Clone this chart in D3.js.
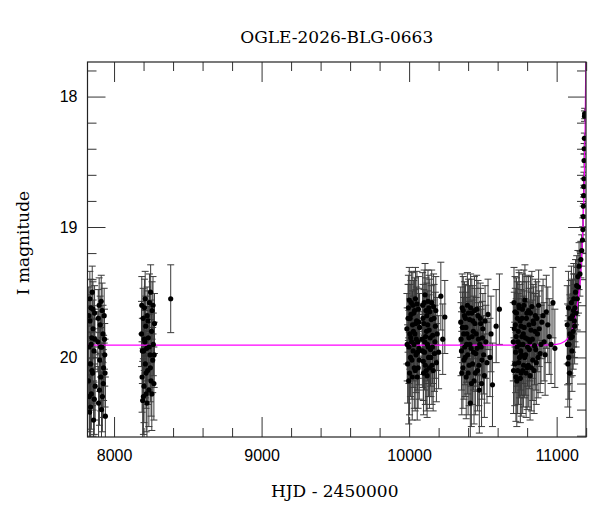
<!DOCTYPE html>
<meta charset="utf-8">
<style>
body { margin: 0; background: #fff; }
svg { font-family: "DejaVu Serif", serif; }
.axis path.domain { display: none; }
.axis line { stroke: #333; }
.axis text { font-size: 16px; fill: #000; }
</style>
<svg width="600" height="512"></svg>
<script src="https://cdn.jsdelivr.net/npm/d3@7"></script>
<script>

var title = "OGLE-2026-BLG-0663",
    xLabel = "HJD - 2450000",
    yLabel = "I magnitude";

var xMajor = [8000, 9000, 10000, 11000],
    yMajor = [18, 19, 20];

// [HJD - 2450000, I mag, error]
var season1 = [
  [7826,20.18,0.25],[7828,19.68,0.22],[7830,19.92,0.22],[7832,20.30,0.27],[7834,20.42,0.28],
  [7836,19.55,0.21],[7837,19.72,0.2],[7840,20.05,0.24],[7841,20.38,0.28],[7843,19.62,0.22],
  [7845,19.90,0.23],[7846,20.28,0.27],[7849,19.85,0.23],[7850,20.10,0.25],[7852,19.50,0.2],
  [7855,20.12,0.25],[7857,19.63,0.21],[7858,19.78,0.22],[7861,20.48,0.3],[7864,19.95,0.24],
  [7866,20.32,0.27],[7868,19.66,0.21],[7870,19.86,0.23],[7872,20.22,0.26],[7890,19.88,0.23],
  [7893,19.70,0.22],[7895,20.35,0.28],[7899,19.60,0.21],[7901,20.25,0.27],[7903,20.02,0.24],
  [7906,19.75,0.22],[7908,19.92,0.23],[7910,20.15,0.26],[7913,19.57,0.2],[7915,20.40,0.29],
  [7917,19.92,0.23],[7919,19.64,0.21],[7921,20.30,0.27],[7925,19.82,0.22],[7927,20.20,0.26],
  [7929,20.08,0.25],[7933,19.68,0.21],[7935,19.86,0.23],[7937,19.98,0.24],[7939,20.12,0.26],
  [7941,20.45,0.3]
];

var season2 = [
  [8186,19.82,0.25],[8188,19.60,0.22],[8190,20.15,0.27],[8192,19.95,0.25],[8194,20.33,0.3],
  [8197,19.70,0.23],[8199,20.30,0.29],[8200,19.95,0.25],[8203,20.22,0.28],[8205,19.86,0.24],
  [8206,19.62,0.22],[8209,19.88,0.24],[8211,19.55,0.21],[8212,20.05,0.26],[8215,19.76,0.23],
  [8217,20.12,0.27],[8218,20.28,0.29],[8221,19.93,0.25],[8223,20.35,0.3],[8224,19.68,0.22],
  [8228,20.10,0.26],[8230,19.72,0.23],[8232,19.85,0.24],[8236,20.25,0.28],[8238,19.92,0.25],
  [8240,19.58,0.22],[8244,19.98,0.25],[8246,20.08,0.26],[8248,19.50,0.21],[8251,20.18,0.27],
  [8254,19.80,0.24],[8256,20.28,0.28],[8258,19.64,0.22],[8262,20.02,0.25],[8264,19.60,0.22],
  [8266,19.90,0.24],[8270,20.20,0.28],[8272,19.98,0.25],[8274,19.74,0.23],[8384,19.55,0.26]
];

var season3 = [
  [9985,19.78,0.27],[9987,19.90,0.28],[9990,20.05,0.3],[9993,19.70,0.26],[9995,19.62,0.25],
  [9997,20.18,0.33],[9999,19.92,0.28],[10001,19.56,0.25],[10003,20.12,0.32],[10005,19.82,0.27],
  [10007,19.70,0.26],[10009,20.00,0.3],[10011,19.85,0.27],[10013,19.67,0.26],[10015,19.58,0.24],
  [10017,19.88,0.28],[10019,20.02,0.3],[10021,20.15,0.33],[10023,19.75,0.26],[10025,19.60,0.25],
  [10027,19.95,0.28],[10029,19.80,0.27],[10031,19.66,0.25],[10033,19.90,0.28],[10035,20.08,0.31],
  [10037,19.64,0.25],[10039,19.82,0.27],[10041,20.10,0.31],[10043,19.55,0.24],[10045,19.74,0.26],
  [10047,19.98,0.29],[10049,19.86,0.28],[10051,19.72,0.26],[10053,19.59,0.25],[10055,20.15,0.33],
  [10057,19.96,0.29],[10059,19.88,0.28],[10061,20.08,0.31],[10063,19.63,0.25],[10065,19.73,0.26],
  [10067,19.93,0.28],[10069,20.02,0.3],[10071,19.77,0.26],[10088,19.86,0.27],[10090,19.95,0.28],
  [10092,19.60,0.25],[10094,19.70,0.26],[10096,20.03,0.3],[10098,20.12,0.32],[10100,19.74,0.26],
  [10102,19.58,0.25],[10104,19.96,0.29],[10106,19.88,0.28],[10108,19.52,0.24],[10110,20.06,0.3],
  [10112,19.84,0.27],[10114,19.64,0.25],[10116,20.10,0.31],[10118,19.80,0.27],[10120,19.68,0.25],
  [10122,20.14,0.32],[10124,19.90,0.28],[10126,19.75,0.26],[10128,19.57,0.24],[10130,19.92,0.28],
  [10132,20.00,0.3],[10134,19.62,0.25],[10136,19.79,0.27],[10138,20.08,0.31],[10140,19.65,0.25],
  [10143,19.85,0.27],[10145,19.94,0.28],[10148,20.00,0.3],[10150,19.71,0.26],[10153,19.58,0.25],
  [10155,20.06,0.3],[10158,19.92,0.28],[10160,19.83,0.27],[10163,20.10,0.31],[10166,19.61,0.25],
  [10169,19.70,0.26],[10172,19.97,0.29],[10175,19.88,0.28],[10178,19.76,0.26],[10181,19.64,0.26],
  [10185,20.04,0.3],[10190,19.82,0.28],[10200,19.96,0.28],[10215,19.53,0.26],[10228,19.86,0.27],
  [10242,19.69,0.28]
];

var season4 = [
  [10350,19.73,0.27],[10352,19.86,0.28],[10355,19.95,0.3],[10357,20.12,0.32],[10360,19.62,0.26],
  [10362,19.77,0.27],[10365,20.08,0.31],[10367,19.64,0.26],[10370,19.82,0.28],[10372,20.02,0.3],
  [10375,19.68,0.26],[10377,19.92,0.29],[10380,20.00,0.3],[10382,19.70,0.26],[10385,19.77,0.27],
  [10387,20.15,0.32],[10390,19.90,0.29],[10392,19.82,0.28],[10395,19.60,0.25],[10397,19.98,0.3],
  [10400,20.12,0.32],[10402,19.66,0.26],[10405,19.85,0.28],[10407,20.06,0.31],[10410,19.71,0.26],
  [10412,19.90,0.29],[10415,20.35,0.34],[10417,19.62,0.26],[10420,19.93,0.29],[10422,20.20,0.33],
  [10425,19.66,0.26],[10427,19.84,0.28],[10430,20.05,0.31],[10432,19.72,0.27],[10435,19.80,0.27],
  [10437,19.96,0.29],[10440,20.18,0.33],[10443,19.64,0.26],[10446,19.74,0.27],[10449,20.12,0.32],
  [10452,19.97,0.29],[10455,19.82,0.28],[10458,19.63,0.26],[10461,19.93,0.29],[10464,20.10,0.31],
  [10467,19.68,0.27],[10470,19.86,0.28],[10473,20.06,0.31],[10476,20.25,0.33],[10479,19.90,0.29],
  [10482,19.70,0.27],[10485,19.74,0.27],[10488,19.92,0.29],[10491,20.20,0.33],[10494,20.02,0.3],
  [10497,19.85,0.28],[10500,19.78,0.27],[10505,19.98,0.3],[10510,20.14,0.32],[10515,19.72,0.27],
  [10520,19.88,0.28],[10528,20.04,0.31],[10535,19.67,0.27],[10548,20.00,0.3],[10555,19.82,0.29],
  [10565,20.21,0.32],[10590,19.76,0.28],[10612,19.63,0.27]
];

var season5 = [
  [10706,19.88,0.3],[10708,20.10,0.33],[10711,19.58,0.27],[10713,19.78,0.28],[10716,20.05,0.32],
  [10718,19.65,0.27],[10720,19.75,0.28],[10722,19.96,0.31],[10724,20.15,0.34],[10726,19.84,0.29],
  [10728,19.66,0.27],[10730,20.18,0.35],[10732,19.92,0.3],[10734,19.70,0.28],[10736,20.10,0.33],
  [10738,19.88,0.3],[10740,19.80,0.29],[10742,20.04,0.32],[10744,19.60,0.27],[10746,19.62,0.27],
  [10748,20.00,0.31],[10750,19.90,0.3],[10752,19.72,0.28],[10754,20.16,0.34],[10756,19.95,0.3],
  [10758,19.76,0.28],[10760,20.12,0.33],[10762,19.98,0.31],[10764,19.84,0.29],[10766,19.70,0.28],
  [10768,19.63,0.27],[10770,20.10,0.33],[10772,19.90,0.3],[10774,19.82,0.29],[10776,20.06,0.32],
  [10778,19.60,0.27],[10780,19.77,0.28],[10783,20.00,0.31],[10785,19.56,0.27],[10788,19.85,0.3],
  [10790,19.98,0.31],[10793,20.12,0.34],[10795,19.70,0.28],[10798,19.66,0.28],[10800,20.08,0.32],
  [10803,19.92,0.3],[10805,19.86,0.29],[10808,20.06,0.32],[10810,19.64,0.27],[10813,19.75,0.28],
  [10815,19.94,0.3],[10818,19.88,0.3],[10820,20.14,0.34],[10823,19.66,0.28],[10826,19.79,0.29],
  [10829,20.08,0.33],[10832,19.61,0.27],[10835,19.86,0.3],[10838,20.02,0.31],[10841,19.72,0.28],
  [10844,19.74,0.28],[10847,20.10,0.33],[10850,19.91,0.3],[10853,19.80,0.29],[10856,19.68,0.28],
  [10859,19.94,0.31],[10862,20.04,0.32],[10866,19.70,0.28],[10870,19.82,0.29],[10874,20.00,0.31],
  [10878,19.60,0.27],[10882,19.78,0.29],[10888,19.97,0.3],[10894,19.90,0.3],[10900,19.73,0.28],
  [10908,19.68,0.28],[10915,19.88,0.3],[10922,19.98,0.31],[10930,19.65,0.28],[10940,19.75,0.29],
  [10950,19.84,0.29],[10962,19.90,0.3],[10975,19.58,0.27],[10988,19.93,0.3]
];

var season6 = [
  [11072,19.75,0.3],[11074,19.90,0.31],[11076,20.05,0.33],[11080,19.62,0.28],[11082,20.00,0.32],
  [11084,19.90,0.3],[11088,20.12,0.34],[11090,19.82,0.3],[11092,19.70,0.29],[11096,19.85,0.3],
  [11098,19.70,0.29],[11100,19.58,0.28],[11104,19.95,0.31],[11106,19.84,0.3],[11108,19.68,0.28],
  [11112,19.80,0.29],[11114,19.64,0.28],[11116,19.55,0.27],[11120,19.72,0.28],[11122,19.76,0.29],
  [11124,19.62,0.26],[11128,19.50,0.25],[11132,19.66,0.26],[11136,19.45,0.23],[11140,19.55,0.24],
  [11144,19.38,0.2],[11148,19.46,0.2],[11152,19.30,0.18],[11158,19.36,0.17],[11164,19.25,0.14],
  [11170,19.18,0.12],[11175,19.10,0.1],[11178,19.02,0.09],[11180,18.92,0.08],[11182,18.84,0.07],
  [11183,18.76,0.06],[11184,18.69,0.06],[11185,18.63,0.05],[11186,18.49,0.05],[11187,18.40,0.04],
  [11188,18.32,0.04],[11189,18.15,0.04],[11190,18.13,0.04]
];

// PSPL model
var modelHjd = [7820, 10900, 11000, 11050, 11090, 11120, 11145, 11160, 11170, 11180, 11188, 11193, 11196, 11198.5, 11200],
    modelMag = [19.905, 19.905, 19.9, 19.88, 19.83, 19.72, 19.56, 19.41, 19.22, 18.95, 18.6, 18.25, 17.95, 17.7, 17.5];

var svg = d3.select("svg"),
    margin = {top: 62, right: 14, bottom: 75, left: 87.5},
    width = +svg.attr("width") - margin.left - margin.right,
    height = +svg.attr("height") - margin.top - margin.bottom;

var x = d3.scaleLinear().domain([7820, 11199]).range([0, width]),
    y = d3.scaleLinear().domain([17.735, 20.61]).range([0, height]);

var g = svg.append("g").attr("transform", "translate(" + margin.left + "," + margin.top + ")");

svg.append("defs").append("clipPath").attr("id", "clip")
  .append("rect").attr("width", width).attr("height", height);

var xMinor = d3.range(8200, 11201, 200).filter(function(d) { return d % 1000; }),
    yMinor = d3.range(17.8, 20.61, 0.2).filter(function(d) { return Math.abs(d - Math.round(d)) > 0.01; });

// minor ticks
g.append("g").attr("class", "axis").attr("transform", "translate(0," + height + ")")
    .call(d3.axisBottom(x).tickValues(xMinor).tickSize(-9).tickFormat(""));
g.append("g").attr("class", "axis")
    .call(d3.axisTop(x).tickValues(xMinor).tickSize(-9).tickFormat(""));
g.append("g").attr("class", "axis")
    .call(d3.axisLeft(y).tickValues(yMinor).tickSize(-9).tickFormat(""));
g.append("g").attr("class", "axis").attr("transform", "translate(" + width + ",0)")
    .call(d3.axisRight(y).tickValues(yMinor).tickSize(-9).tickFormat(""));

// major ticks
g.append("g").attr("class", "axis").attr("transform", "translate(0," + height + ")")
    .call(d3.axisBottom(x).tickValues(xMajor).tickSize(-20).tickPadding(13).tickFormat(d3.format("d")));
g.append("g").attr("class", "axis")
    .call(d3.axisTop(x).tickValues(xMajor).tickSize(-20).tickFormat(""));
g.append("g").attr("class", "axis")
    .call(d3.axisLeft(y).tickValues(yMajor).tickSize(-18).tickPadding(10).tickFormat(d3.format("d")));
g.append("g").attr("class", "axis").attr("transform", "translate(" + width + ",0)")
    .call(d3.axisRight(y).tickValues(yMajor).tickSize(-18).tickFormat(""));

var points = [].concat(season1, season2, season3, season4, season5, season6);

var bars = g.append("g").attr("clip-path", "url(#clip)")
    .attr("stroke", "#3a3a3a").attr("stroke-width", 1);

bars.selectAll(".eb").data(points).enter().append("line")
    .attr("x1", function(d) { return x(d[0]); })
    .attr("x2", function(d) { return x(d[0]); })
    .attr("y1", function(d) { return y(d[1] - d[2]); })
    .attr("y2", function(d) { return y(d[1] + d[2]); });

bars.selectAll(".cap").data(points.concat(points)).enter().append("line")
    .attr("x1", function(d) { return x(d[0]) - 3.5; })
    .attr("x2", function(d) { return x(d[0]) + 3.5; })
    .attr("y1", function(d, i) { return y(i < points.length ? d[1] - d[2] : d[1] + d[2]); })
    .attr("y2", function(d, i) { return y(i < points.length ? d[1] - d[2] : d[1] + d[2]); });

g.append("path")
    .datum(d3.zip(modelHjd, modelMag))
    .attr("clip-path", "url(#clip)")
    .attr("fill", "none")
    .attr("stroke", "#ff00ff")
    .attr("stroke-width", 1.3)
    .attr("d", d3.line()
        .x(function(d) { return x(d[0]); })
        .y(function(d) { return y(d[1]); })
        .curve(d3.curveMonotoneX));

g.append("g").attr("clip-path", "url(#clip)")
  .selectAll("circle").data(points).enter().append("circle")
    .attr("cx", function(d) { return x(d[0]); })
    .attr("cy", function(d) { return y(d[1]); })
    .attr("r", 2.6)
    .attr("fill", "#000");

g.append("rect")
    .attr("width", width).attr("height", height)
    .attr("fill", "none").attr("stroke", "#222").attr("stroke-width", 1.2);

svg.append("text")
    .attr("x", margin.left + width / 2).attr("y", 43)
    .attr("text-anchor", "middle").attr("font-size", 17)
    .text(title);

svg.append("text")
    .attr("x", margin.left + width / 2 - 2).attr("y", 497)
    .attr("text-anchor", "middle").attr("font-size", 17)
    .text(xLabel);

svg.append("text")
    .attr("transform", "translate(29,243) rotate(-90)")
    .attr("text-anchor", "middle").attr("font-size", 17)
    .text(yLabel);

</script>
